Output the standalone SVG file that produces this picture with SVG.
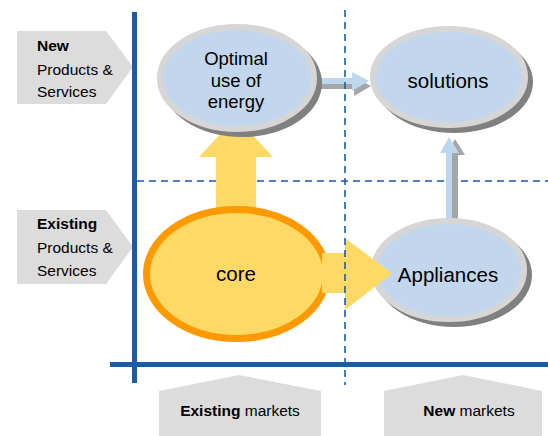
<svg xmlns="http://www.w3.org/2000/svg" width="548" height="436" viewBox="0 0 548 436">
  <defs>
    <style>
      text { font-family: "Liberation Sans", Arial, sans-serif; fill: #000; }
      .lbl { font-size: 15.5px; }
      .b { font-weight: bold; }
      .node-txt { font-size: 20.5px; text-anchor: middle; }
      .tag { fill: #dcdcdc; }
      .shadow { fill: #808080; }
      .ring { fill: #c2d7ed; stroke: #d6d6d6; stroke-width: 6; }
      .core { fill: #ffd966; stroke: #ff9900; stroke-width: 7; }
      .big-arrow { fill: #ffd966; }
      .thin-arrow { fill: #bdd7ee; }
      .thin-shadow { fill: #a6a6a6; }
      .axis { fill: #1b5ca9; }
      .dash { stroke: #1b5ca9; stroke-width: 1.6; stroke-dasharray: 7 5; fill: none; }
    </style>
  </defs>

  <!-- quadrant divider (horizontal) -->
  <line class="dash" x1="137" y1="181" x2="548" y2="181"/>

  <!-- row labels -->
  <g id="row-new">
    <polygon class="tag" points="17,31 106,31 133,67 106,104 17,104"/>
    <text class="lbl b" x="37" y="51">New</text>
    <text class="lbl" x="37" y="74.5">Products &amp;</text>
    <text class="lbl" x="37" y="97">Services</text>
  </g>
  <g id="row-existing">
    <polygon class="tag" points="17,210 106,210 133,247 106,284 17,284"/>
    <text class="lbl b" x="37" y="229">Existing</text>
    <text class="lbl" x="37" y="252.5">Products &amp;</text>
    <text class="lbl" x="37" y="276">Services</text>
  </g>

  <!-- column labels -->
  <g id="col-existing">
    <polygon class="tag" points="159,391 239,375 321,391 321,436 159,436"/>
    <text class="lbl" x="240" y="416" text-anchor="middle"><tspan class="b">Existing</tspan> markets</text>
  </g>
  <g id="col-new">
    <polygon class="tag" points="384,391 463,375 542,391 542,436 384,436"/>
    <text class="lbl" x="469" y="416" text-anchor="middle"><tspan class="b">New</tspan> markets</text>
  </g>

  <!-- connectors -->
  <g id="connectors">
    <!-- core up to optimal use of energy -->
    <polygon class="big-arrow" points="216,215 216,157 199,157 236,117 273,157 256,157 256,215"/>
    <!-- optimal use of energy to solutions -->
    <polygon class="thin-shadow" transform="translate(2,5)" points="316,78 352,78 352,72 369,81 352,91 352,84 316,84"/>
    <polygon class="thin-arrow" points="316,78 352,78 352,72 369,81 352,91 352,84 316,84"/>
    <!-- appliances up to solutions -->
    <polygon class="thin-shadow" transform="translate(6,2)" points="446,222 446,153 440,153 449,137 459,153 452,153 452,222"/>
    <polygon class="thin-arrow" points="446,222 446,153 440,153 449,137 459,153 452,153 452,222"/>
  </g>

  <!-- nodes -->
  <g id="node-optimal">
    <ellipse class="shadow" cx="242" cy="83" rx="80" ry="54"/>
    <ellipse class="ring" cx="237" cy="78" rx="77" ry="51"/>
    <text class="node-txt" style="font-size:18.5px" x="236" y="65">Optimal</text>
    <text class="node-txt" style="font-size:18.5px" x="236" y="87">use of</text>
    <text class="node-txt" style="font-size:18.5px" x="236" y="108">energy</text>
  </g>
  <g id="node-solutions">
    <ellipse class="shadow" cx="454" cy="82" rx="79" ry="51"/>
    <ellipse class="ring" cx="449" cy="77" rx="76" ry="48"/>
    <text class="node-txt" x="448" y="88">solutions</text>
  </g>
  <g id="node-appliances">
    <ellipse class="shadow" cx="454" cy="275" rx="78" ry="52"/>
    <ellipse class="ring" cx="449" cy="270" rx="75" ry="49"/>
    <text class="node-txt" x="448" y="282">Appliances</text>
  </g>
  <g id="node-core">
    <ellipse class="core" cx="236.5" cy="274" rx="90" ry="64.5"/>
    <text class="node-txt" x="236" y="281">core</text>
  </g>

  <!-- core out to appliances (drawn over the appliances rim) -->
  <polygon class="big-arrow" points="322,253 345,253 345,238 392,273.5 345,310 345,293 322,293"/>

  <!-- quadrant divider (vertical) -->
  <line class="dash" x1="345" y1="10" x2="345" y2="385"/>

  <!-- axes -->
  <rect class="axis" x="132" y="12" width="5" height="371"/>
  <rect class="axis" x="110" y="362" width="438" height="5"/>
</svg>
